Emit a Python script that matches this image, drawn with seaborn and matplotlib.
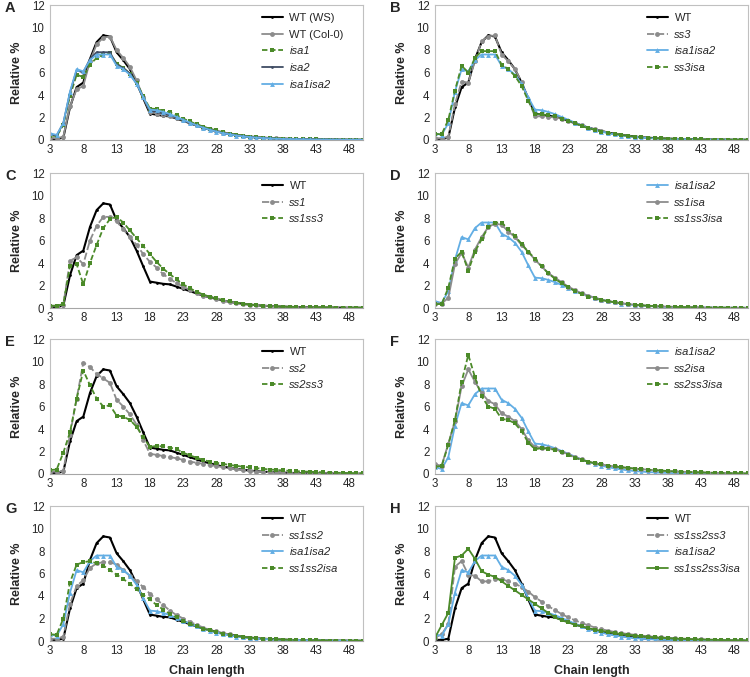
import numpy as np
import pandas as pd
import matplotlib
matplotlib.use("Agg")
import matplotlib.pyplot as plt
import seaborn as sns

# chain lengths (DP 3..50)
chain = list(range(3, 51))

wt = [0.1, 0.1, 0.2, 2.9, 4.7, 5.1, 7.2, 8.7, 9.3, 9.2,
      7.8, 7.1, 6.3, 5.1, 3.7, 2.35, 2.25, 2.15, 2.1, 1.9,
      1.7, 1.5, 1.3, 1.1, 0.95, 0.8, 0.65, 0.55, 0.45, 0.38,
      0.3, 0.25, 0.2, 0.17, 0.14, 0.12, 0.1, 0.08, 0.07, 0.06,
      0.05, 0.04, 0.04, 0.03, 0.03, 0.02, 0.02, 0.02]
wt_col0 = [0.2, 0.15, 0.3, 3.0, 4.5, 4.8, 7.0, 8.5, 9.1, 9.2,
           8.0, 7.3, 6.5, 5.3, 3.8, 2.5, 2.35, 2.25, 2.1, 1.95,
           1.75, 1.5, 1.3, 1.1, 0.95, 0.8, 0.66, 0.55, 0.46, 0.38,
           0.31, 0.26, 0.21, 0.17, 0.14, 0.12, 0.1, 0.08, 0.07, 0.06,
           0.05, 0.04, 0.04, 0.03, 0.03, 0.02, 0.02, 0.02]
isa1isa2 = [0.6, 0.45, 1.5, 4.3, 6.3, 6.1, 7.1, 7.6, 7.6, 7.6,
            6.6, 6.3, 5.8, 5.0, 3.8, 2.7, 2.65, 2.5, 2.3, 2.05,
            1.8, 1.55, 1.3, 1.1, 0.9, 0.75, 0.6, 0.5, 0.4, 0.32,
            0.26, 0.21, 0.17, 0.14, 0.11, 0.09, 0.08, 0.07, 0.06, 0.05,
            0.04, 0.04, 0.03, 0.03, 0.02, 0.02, 0.02, 0.02]
isa1 = [0.4, 0.35, 1.3, 3.9, 5.8, 5.6, 6.7, 7.3, 7.6, 7.7,
        6.8, 6.4, 5.9, 5.1, 3.9, 2.8, 2.75, 2.6, 2.45, 2.2,
        1.9, 1.65, 1.4, 1.2, 1.0, 0.85, 0.7, 0.57, 0.46, 0.37,
        0.3, 0.24, 0.2, 0.16, 0.13, 0.11, 0.09, 0.08, 0.07, 0.06,
        0.05, 0.04, 0.04, 0.03, 0.03, 0.02, 0.02, 0.02]
isa2 = [0.5, 0.4, 1.5, 4.2, 6.2, 6.0, 7.2, 7.8, 7.8, 7.8,
        6.7, 6.4, 5.9, 5.0, 3.8, 2.6, 2.5, 2.35, 2.2, 2.0,
        1.75, 1.5, 1.28, 1.08, 0.9, 0.75, 0.6, 0.5, 0.4, 0.32,
        0.26, 0.21, 0.17, 0.14, 0.11, 0.09, 0.08, 0.07, 0.06, 0.05,
        0.04, 0.04, 0.03, 0.03, 0.02, 0.02, 0.02, 0.02]
ss3 = [0.15, 0.15, 0.3, 3.2, 5.2, 5.1, 7.0, 8.8, 9.2, 9.3,
       7.6, 7.0, 6.3, 5.2, 3.6, 2.1, 2.1, 2.05, 2.0, 1.9,
       1.7, 1.5, 1.3, 1.1, 0.95, 0.8, 0.66, 0.55, 0.45, 0.37,
       0.3, 0.25, 0.2, 0.17, 0.14, 0.12, 0.1, 0.08, 0.07, 0.06,
       0.05, 0.04, 0.04, 0.03, 0.03, 0.02, 0.02, 0.02]
ss3isa = [0.55, 0.5, 1.8, 4.4, 6.6, 6.0, 7.3, 7.9, 7.9, 7.9,
          6.7, 6.3, 5.7, 4.8, 3.5, 2.3, 2.3, 2.2, 2.1, 1.9,
          1.7, 1.5, 1.25, 1.05, 0.9, 0.75, 0.65, 0.55, 0.45, 0.37,
          0.3, 0.25, 0.2, 0.17, 0.14, 0.12, 0.1, 0.08, 0.07, 0.06,
          0.05, 0.04, 0.04, 0.03, 0.03, 0.02, 0.02, 0.02]
ss1 = [0.2, 0.2, 0.3, 4.2, 4.5, 3.9, 6.0, 7.3, 8.1, 8.1,
       7.7, 7.0, 6.3, 5.6, 4.8, 4.1, 3.6, 3.0, 2.6, 2.2,
       1.9, 1.6, 1.35, 1.1, 0.95, 0.8, 0.65, 0.55, 0.45, 0.37,
       0.3, 0.25, 0.2, 0.17, 0.14, 0.12, 0.1, 0.08, 0.07, 0.06,
       0.05, 0.04, 0.04, 0.03, 0.03, 0.02, 0.02, 0.02]
ss1ss3 = [0.2, 0.2, 0.35, 3.7, 3.9, 2.1, 4.0, 5.6, 7.1, 7.9,
          8.1, 7.6, 6.9, 6.2, 5.5, 4.8, 4.1, 3.5, 3.0, 2.55,
          2.1, 1.75, 1.45, 1.2, 1.0, 0.85, 0.7, 0.58, 0.47, 0.38,
          0.3, 0.25, 0.2, 0.17, 0.14, 0.12, 0.1, 0.09, 0.08, 0.07,
          0.06, 0.05, 0.05, 0.04, 0.04, 0.03, 0.03, 0.03]
ss1isa = [0.4, 0.4, 0.9, 3.9, 4.9, 3.6, 5.2, 6.3, 7.2, 7.5,
          7.4, 6.8, 6.3, 5.6, 5.0, 4.3, 3.7, 3.1, 2.7, 2.3,
          1.9, 1.6, 1.3, 1.1, 0.9, 0.75, 0.62, 0.52, 0.43, 0.35,
          0.29, 0.24, 0.2, 0.17, 0.14, 0.12, 0.1, 0.08, 0.07, 0.06,
          0.05, 0.04, 0.04, 0.03, 0.03, 0.02, 0.02, 0.02]
ss1ss3isa = [0.35, 0.35, 1.8, 4.4, 5.0, 3.3, 5.0, 6.1, 7.2, 7.6,
             7.6, 7.0, 6.4, 5.7, 5.0, 4.4, 3.7, 3.1, 2.6, 2.2,
             1.85, 1.5, 1.25, 1.0, 0.85, 0.7, 0.6, 0.5, 0.42, 0.35,
             0.29, 0.24, 0.2, 0.17, 0.14, 0.12, 0.1, 0.08, 0.07, 0.06,
             0.05, 0.04, 0.04, 0.03, 0.03, 0.02, 0.02, 0.02]
ss2 = [0.2, 0.2, 0.3, 3.5, 6.7, 9.9, 9.5, 8.9, 8.5, 8.1,
       6.6, 6.0, 5.3, 4.4, 3.0, 1.8, 1.7, 1.6, 1.5, 1.4,
       1.25, 1.1, 1.0, 0.9, 0.8, 0.7, 0.6, 0.5, 0.42, 0.35,
       0.28, 0.22, 0.18, 0.14, 0.11, 0.09, 0.07, 0.06, 0.05, 0.04,
       0.04, 0.03, 0.03, 0.02, 0.02, 0.02, 0.02, 0.02]
ss2ss3 = [0.35, 0.4, 1.9, 3.7, 6.7, 9.2, 7.9, 6.7, 6.0, 6.1,
          5.2, 5.1, 4.8, 4.2, 3.3, 2.4, 2.5, 2.45, 2.35, 2.2,
          1.9, 1.65, 1.45, 1.25, 1.1, 1.0, 0.9, 0.8, 0.72, 0.65,
          0.58, 0.52, 0.46, 0.4, 0.36, 0.32, 0.28, 0.25, 0.22, 0.2,
          0.18, 0.15, 0.13, 0.11, 0.1, 0.08, 0.07, 0.06]
ss2isa = [0.85, 0.75, 2.7, 4.7, 7.8, 9.3, 8.2, 7.2, 6.5, 6.2,
          5.4, 5.1, 4.7, 4.0, 3.0, 2.4, 2.35, 2.3, 2.2, 2.0,
          1.75, 1.5, 1.3, 1.1, 0.95, 0.85, 0.75, 0.67, 0.6, 0.54,
          0.48, 0.43, 0.38, 0.34, 0.3, 0.26, 0.23, 0.2, 0.18, 0.16,
          0.14, 0.12, 0.1, 0.09, 0.08, 0.06, 0.05, 0.05]
ss2ss3isa = [0.65, 0.7, 2.6, 4.8, 8.2, 10.6, 8.6, 6.9, 6.0, 5.8,
             4.9, 4.8, 4.5, 3.8, 2.8, 2.2, 2.3, 2.25, 2.15, 1.95,
             1.7, 1.45, 1.25, 1.1, 0.95, 0.85, 0.75, 0.67, 0.6, 0.54,
             0.48, 0.43, 0.38, 0.34, 0.3, 0.26, 0.23, 0.2, 0.18, 0.16,
             0.14, 0.12, 0.1, 0.09, 0.08, 0.06, 0.05, 0.05]
ss1ss2 = [0.2, 0.2, 0.4, 3.3, 4.9, 5.4, 6.5, 6.9, 7.0, 7.0,
          6.8, 6.3, 5.8, 5.3, 4.8, 4.2, 3.7, 3.2, 2.7, 2.3,
          2.0, 1.7, 1.45, 1.2, 1.0, 0.85, 0.7, 0.58, 0.47, 0.38,
          0.3, 0.25, 0.2, 0.17, 0.14, 0.12, 0.1, 0.08, 0.07, 0.06,
          0.05, 0.04, 0.04, 0.03, 0.03, 0.02, 0.02, 0.02]
ss1ss2isa = [0.6, 0.55, 2.0, 5.2, 6.8, 7.0, 7.1, 6.9, 6.7, 6.3,
             5.9, 5.5, 5.1, 4.6, 4.1, 3.7, 3.2, 2.8, 2.4, 2.1,
             1.8, 1.55, 1.3, 1.1, 0.95, 0.8, 0.65, 0.55, 0.45, 0.37,
             0.3, 0.25, 0.2, 0.17, 0.14, 0.12, 0.1, 0.08, 0.07, 0.06,
             0.05, 0.04, 0.04, 0.03, 0.03, 0.02, 0.02, 0.02]
ss1ss2ss3 = [0.3, 0.6, 1.5, 6.6, 7.1, 5.9, 5.8, 5.3, 5.3, 5.5,
             5.5, 5.3, 5.1, 4.8, 4.4, 3.9, 3.5, 3.1, 2.75, 2.4,
             2.1, 1.85, 1.6, 1.4, 1.2, 1.05, 0.92, 0.8, 0.7, 0.62,
             0.55, 0.48, 0.42, 0.37, 0.32, 0.28, 0.25, 0.22, 0.19, 0.17,
             0.15, 0.13, 0.11, 0.1, 0.08, 0.07, 0.06, 0.05]
ss1ss2ss3isa = [0.3, 1.4, 2.5, 7.4, 7.6, 8.2, 7.3, 6.2, 5.9, 5.7,
                5.3, 4.9, 4.5, 4.1, 3.7, 3.3, 2.9, 2.5, 2.1, 1.85,
                1.65, 1.45, 1.3, 1.15, 1.0, 0.9, 0.8, 0.7, 0.62, 0.55,
                0.48, 0.42, 0.37, 0.33, 0.29, 0.25, 0.22, 0.19, 0.17, 0.15,
                0.13, 0.11, 0.1, 0.08, 0.07, 0.06, 0.05, 0.05]

BLACK = "#000000"; GRAY = "#8C8C8C"; GREEN = "#4B8A29"; BLUE = "#63AEE4"; NAVY = "#3F4C63"

# style keys -> (color, marker, markersize, dashes)
STYLES = {
    "black": (BLACK, "o", 2.0, None),
    "gray": (GRAY, "o", 3.5, None),
    "grayd": (GRAY, "o", 3.5, (4, 1.5)),
    "green": (GREEN, "s", 3.3, (3, 1.5)),
    "greens": (GREEN, "s", 3.5, None),
    "blue": (BLUE, "^", 3.5, None),
    "navy": (NAVY, "o", 2.0, None),
}

panels = [
    ("A", [("WT (WS)", wt, "black"), ("WT (Col-0)", wt_col0, "gray"), ("isa1", isa1, "green"),
           ("isa2", isa2, "navy"), ("isa1isa2", isa1isa2, "blue")]),
    ("B", [("WT", wt, "black"), ("ss3", ss3, "grayd"), ("isa1isa2", isa1isa2, "blue"),
           ("ss3isa", ss3isa, "green")]),
    ("C", [("WT", wt, "black"), ("ss1", ss1, "grayd"), ("ss1ss3", ss1ss3, "green")]),
    ("D", [("isa1isa2", isa1isa2, "blue"), ("ss1isa", ss1isa, "gray"), ("ss1ss3isa", ss1ss3isa, "green")]),
    ("E", [("WT", wt, "black"), ("ss2", ss2, "grayd"), ("ss2ss3", ss2ss3, "green")]),
    ("F", [("isa1isa2", isa1isa2, "blue"), ("ss2isa", ss2isa, "gray"), ("ss2ss3isa", ss2ss3isa, "green")]),
    ("G", [("WT", wt, "black"), ("ss1ss2", ss1ss2, "grayd"), ("isa1isa2", isa1isa2, "blue"),
           ("ss1ss2isa", ss1ss2isa, "green")]),
    ("H", [("WT", wt, "black"), ("ss1ss2ss3", ss1ss2ss3, "grayd"), ("isa1isa2", isa1isa2, "blue"),
           ("ss1ss2ss3isa", ss1ss2ss3isa, "greens")]),
]

sns.set_style("white")
plt.rcParams["font.family"] = ["Liberation Sans", "DejaVu Sans"]

W, H = 750, 677
fig = plt.figure(figsize=(W / 100, H / 100), dpi=100)

col_left = [50, 435]
row_top = [5, 173, 339, 506]
ax_w, ax_h = 313, 135

for i, (letter, series) in enumerate(panels):
    r, c = divmod(i, 2)
    x0 = col_left[c]; y0 = row_top[r]
    ax = fig.add_axes([x0 / W, 1 - (y0 + ax_h) / H, ax_w / W, ax_h / H])
    for name, vals, key in series:
        color, marker, ms, dashes = STYLES[key]
        kw = dict(color=color, marker=marker, markersize=ms, markeredgewidth=0,
                  linewidth=1.5 if key == "black" else 1.3, label=name)
        if dashes is not None:
            kw["dashes"] = dashes
        sns.lineplot(x=chain, y=vals, ax=ax, **kw)

    ax.set_xlim(3, 50)
    ax.set_ylim(0, 12)
    ax.set_xticks(range(3, 50, 5))
    ax.set_yticks(range(0, 13, 2))
    ax.tick_params(axis="x", direction="in", length=3, color="#A6A6A6", labelsize=8.3, pad=3)
    ax.tick_params(axis="y", length=0, labelsize=8.3, pad=4)
    for s in ax.spines.values():
        s.set_color("#C0C0C0")
        s.set_linewidth(0.8)
    ax.spines["bottom"].set_color("#A6A6A6")

    ax.set_ylabel("Relative %", fontsize=9, fontweight="bold")
    ax.yaxis.set_label_coords(-0.085, 0.5)
    if r == 3:
        ax.set_xlabel("Chain length", fontsize=9, fontweight="bold")
        ax.xaxis.set_label_coords(0.5, -0.175)
    else:
        ax.set_xlabel("")

    leg = ax.legend(loc="upper left", bbox_to_anchor=(0.655, 0.99), frameon=False,
                    fontsize=8, handlelength=1.9, handletextpad=0.6,
                    labelspacing=0.6, borderaxespad=0.2)
    for t in leg.get_texts():
        if not t.get_text().startswith("WT"):
            t.set_fontstyle("italic")

    fig.text((x0 - 45) / W, 1 - (y0 + 3) / H, letter, fontsize=10.5, fontweight="bold",
             ha="left", va="center")

fig.savefig("out.png", dpi=100)
